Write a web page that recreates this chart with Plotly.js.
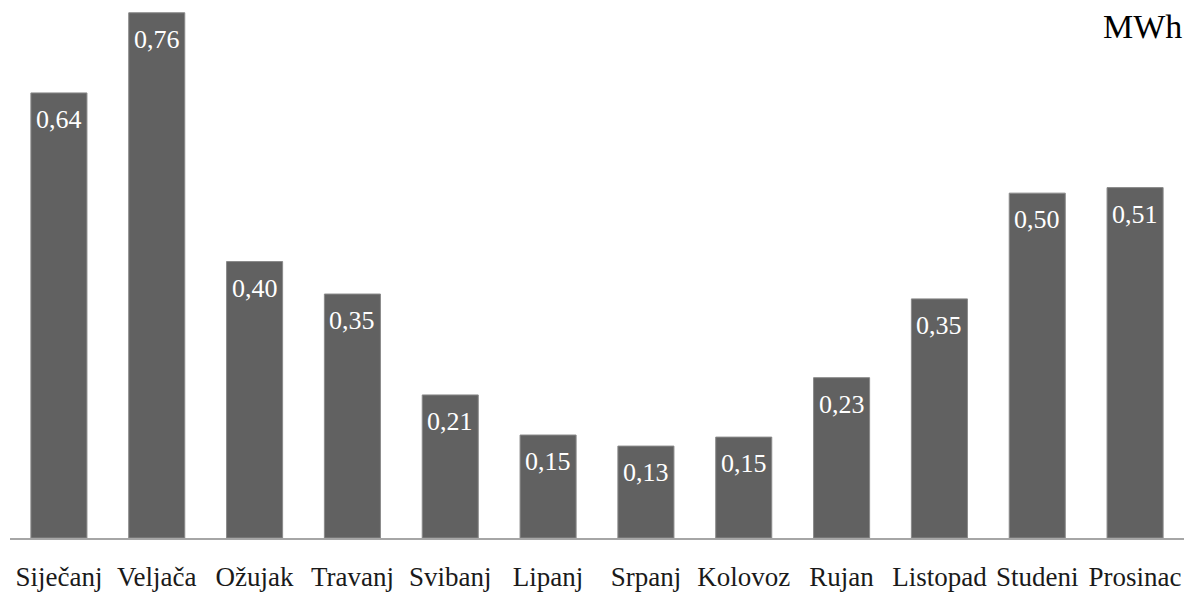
<!DOCTYPE html>
<html>
<head>
<meta charset="utf-8">
<script src="https://cdn.plot.ly/plotly-3.0.1.min.js"></script>
<style>html,body{margin:0;padding:0;background:#fff;}#chart{width:1191px;height:595px;}</style>
</head>
<body>
<div id="chart"></div>
<script>
const months = ["Siječanj","Veljača","Ožujak","Travanj","Svibanj","Lipanj","Srpanj","Kolovoz","Rujan","Listopad","Studeni","Prosinac"];
const energyMWh = [0.644, 0.76, 0.40, 0.353, 0.207, 0.149, 0.133, 0.146, 0.232, 0.346, 0.499, 0.507];
const unitLabel = "MWh";

const FONT = "Times New Roman, Liberation Serif, serif";

function fmt(v){ return v.toFixed(2).replace('.', ','); }

const trace = {
  type: 'bar',
  x: months,
  y: energyMWh,
  marker: {color: '#616161', line: {color: '#8a8a8a', width: 1}},
  hoverinfo: 'none'
};

const annotations = months.map((m, i) => ({
  x: m, y: energyMWh[i], xref: 'x', yref: 'y',
  text: fmt(energyMWh[i]),
  showarrow: false, yanchor: 'top', xanchor: 'center',
  yshift: -10,
  font: {family: FONT, size: 26, color: '#ffffff'}
}));
annotations.push({
  xref: 'paper', yref: 'paper', x: 1, y: 1,
  xanchor: 'right', yanchor: 'top', yshift: 4,
  text: unitLabel, showarrow: false,
  font: {family: FONT, size: 34, color: '#000000'}
});

const layout = {
  width: 1191, height: 595,
  margin: {l: 10, r: 7, t: 10, b: 57, pad: 0},
  paper_bgcolor: '#ffffff', plot_bgcolor: '#ffffff',
  font: {family: FONT},
  bargap: 0.427,
  showlegend: false,
  xaxis: {
    type: 'category',
    showline: true, linecolor: '#a6a6a6', linewidth: 2,
    showgrid: false, zeroline: false, ticks: '',
    ticklabelstandoff: 14,
    tickfont: {family: FONT, size: 27, color: '#1a1a1a'}
  },
  yaxis: {
    range: [0, 0.764],
    visible: false, showgrid: false, zeroline: false
  },
  annotations: annotations
};

Plotly.newPlot('chart', [trace], layout, {staticPlot: true, displayModeBar: false});
</script>
</body>
</html>
